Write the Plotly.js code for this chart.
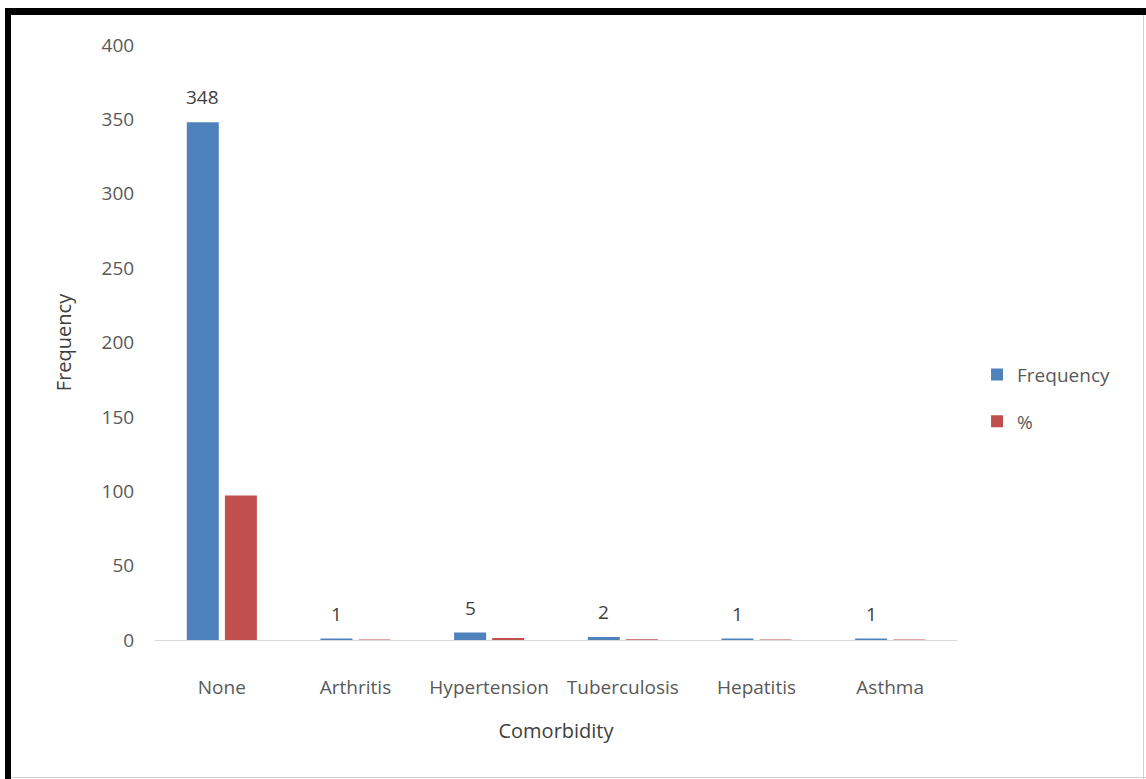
<!DOCTYPE html>
<html>
<head>
<meta charset="utf-8">
<script src="https://cdn.plot.ly/plotly-3.0.1.min.js"></script>
<style>
  html, body { margin: 0; padding: 0; background: #ffffff; }
  #wrap { position: relative; width: 1146px; height: 779px; overflow: hidden; }
  #chart { position: absolute; left: 0; top: 0; width: 1146px; height: 779px; }
  .bd { position: absolute; pointer-events: none; }
</style>
</head>
<body>
<div id="wrap">
  <div id="chart"></div>
  <div class="bd" style="left:5px; top:8px; width:1141px; height:7px; background:#000;"></div>
  <div class="bd" style="left:5px; top:8px; width:6px; height:771px; background:#000;"></div>
  <div class="bd" style="left:1143px; top:15px; width:1px; height:764px; background:#d0d0d0;"></div>
  <div class="bd" style="left:11px; top:777px; width:1135px; height:1px; background:#d0d0d0;"></div>
</div>
<script>
// ---- data ----
const categories = ["None", "Arthritis", "Hypertension", "Tuberculosis", "Hepatitis", "Asthma"];
const frequency = [348, 1, 5, 2, 1, 1];
const percent = [97.2, 0.28, 1.4, 0.56, 0.28, 0.28];
const yTicks = [0, 50, 100, 150, 200, 250, 300, 350, 400];
const seriesNames = ["Frequency", "%"];
const xTitle = "Comorbidity";
const yTitle = "Frequency";

const FONT = "'Open Sans', 'Noto Sans', sans-serif";

const traces = [
  {
    type: "bar", name: seriesNames[0], x: categories, y: frequency,
    marker: { color: "#4F81BD" }, legendgroup: "a", hoverinfo: "x+y"
  },
  {
    type: "bar", name: seriesNames[1], x: categories, y: percent,
    marker: { color: "#C0504D" }, legendgroup: "b", hoverinfo: "x+y"
  }
];

const annotations = categories.map((c, i) => ({
  x: c, y: frequency[i], xref: "x", yref: "y",
  text: String(frequency[i]), showarrow: false,
  xshift: -19, yshift: 25,
  font: { family: FONT, size: 19, color: "#404040" }
}));

const layout = {
  width: 1146, height: 779,
  margin: { l: 155, r: 189, t: 45, b: 139 },
  paper_bgcolor: "#ffffff", plot_bgcolor: "#ffffff",
  font: { family: FONT, color: "#595959", size: 19 },
  barmode: "group", bargap: 0.43, bargroupgap: 0.16,
  showlegend: true,
  legend: {
    x: 1.025, xanchor: "left", y: 0.478, yanchor: "top",
    tracegroupgap: 19, font: { family: FONT, size: 19, color: "#595959" },
    bgcolor: "rgba(0,0,0,0)"
  },
  xaxis: {
    type: "category", showgrid: false, zeroline: false,
    showline: true, linecolor: "#d9d9d9", linewidth: 1,
    ticks: "outside", ticklen: 30, tickcolor: "rgba(0,0,0,0)",
    tickfont: { family: FONT, size: 19, color: "#595959" },
    title: { text: xTitle, standoff: 25, font: { family: FONT, size: 20, color: "#404040" } },
    automargin: false
  },
  yaxis: {
    range: [0, 400], tickvals: yTicks, showgrid: false, zeroline: false,
    showline: false,
    ticks: "outside", ticklen: 16, tickcolor: "rgba(0,0,0,0)",
    tickfont: { family: FONT, size: 19, color: "#595959" },
    title: { text: yTitle, standoff: 24, font: { family: FONT, size: 20, color: "#404040" } },
    automargin: false
  },
  annotations: annotations
};

Plotly.newPlot("chart", traces, layout, { displayModeBar: false, staticPlot: true });
</script>
</body>
</html>
